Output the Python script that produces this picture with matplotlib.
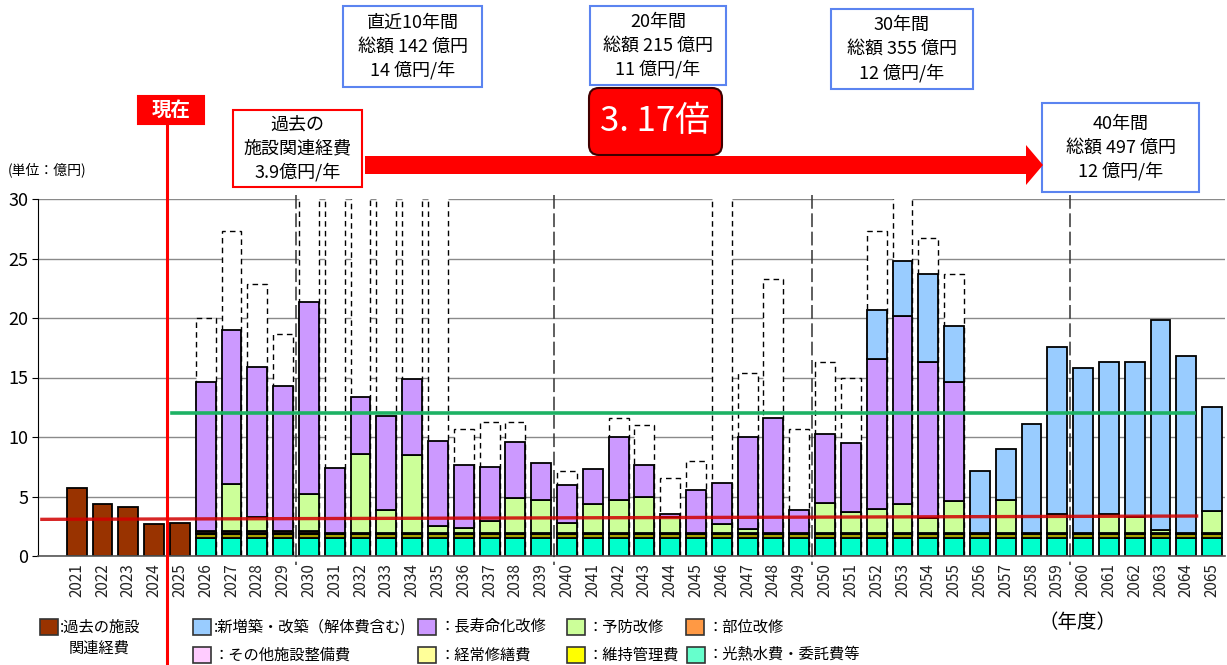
import numpy as np
import matplotlib.pyplot as plt
from matplotlib.patches import Rectangle, FancyBboxPatch, Polygon
from matplotlib.transforms import blended_transform_factory

plt.rcParams['font.family'] = ['Noto Sans CJK JP', 'DejaVu Sans']

W, H = 1227, 665

# ---- data (億円) ----
years = [str(y) for y in range(2021, 2066)]

# 2021-2025: 過去の施設関連経費
past_cost = [5.69, 4.37, 4.09, 2.66, 2.80]

# 2026-2065 stacked components
utility = [1.55, 1.55, 1.55, 1.55, 1.55, 1.55, 1.55, 1.55, 1.55, 1.55,
           1.55, 1.55, 1.55, 1.55, 1.55, 1.55, 1.55, 1.55, 1.55, 1.55,
           1.55, 1.55, 1.55, 1.55, 1.55, 1.55, 1.55, 1.55, 1.55, 1.55,
           1.55, 1.55, 1.55, 1.55, 1.55, 1.55, 1.55, 1.55, 1.55, 1.55]
upkeep = [0.30, 0.30, 0.30, 0.30, 0.30, 0.30, 0.30, 0.30, 0.30, 0.30,
          0.30, 0.30, 0.30, 0.30, 0.30, 0.30, 0.30, 0.30, 0.30, 0.30,
          0.30, 0.30, 0.30, 0.30, 0.30, 0.30, 0.30, 0.30, 0.30, 0.30,
          0.30, 0.30, 0.30, 0.30, 0.30, 0.30, 0.30, 0.30, 0.30, 0.30]
repair = [0.05, 0.05, 0.05, 0.05, 0.05, 0.05, 0.05, 0.05, 0.05, 0.05,
          0.05, 0.05, 0.05, 0.05, 0.05, 0.05, 0.05, 0.05, 0.05, 0.05,
          0.05, 0.05, 0.05, 0.05, 0.05, 0.05, 0.05, 0.05, 0.05, 0.05,
          0.05, 0.05, 0.05, 0.05, 0.05, 0.05, 0.05, 0.05, 0.05, 0.05]
other = [0, 0, 0, 0, 0, 0, 0, 0, 0, 0,
         0, 0, 0, 0, 0, 0, 0, 0, 0, 0,
         0, 0, 0, 0, 0, 0, 0, 0, 0, 0,
         0, 0, 0, 0, 0, 0, 0, 0, 0, 0]
partial = [0.20, 0.20, 0.20, 0.20, 0.20, 0, 0, 0, 0, 0,
           0, 0, 0, 0, 0, 0, 0, 0, 0, 0,
           0, 0, 0, 0, 0, 0, 0, 0, 0, 0,
           0, 0, 0, 0, 0, 0, 0, 0, 0, 0]
preventive = [0, 3.95, 1.20, 0, 3.10, 0, 6.67, 1.97, 6.56, 0.65,
              0.48, 1.01, 2.94, 2.80, 0.90, 2.47, 2.80, 3.06, 1.40, 0,
              0.76, 0.37, 0, 0, 2.58, 1.83, 2.08, 2.47, 1.26, 2.69,
              0, 2.80, 0, 1.65, 0, 1.63, 1.40, 0.25, 0, 1.88]
longlife = [12.55, 12.92, 12.55, 12.16, 16.17, 5.49, 4.76, 7.87, 6.41, 7.11,
            5.24, 4.59, 4.71, 3.14, 3.14, 2.97, 5.33, 2.66, 0.23, 3.65,
            3.50, 7.76, 9.70, 1.97, 5.77, 5.79, 12.57, 15.80, 13.14, 10.06,
            0, 0, 0, 0, 0, 0, 0, 0, 0, 0]
newbuild = [0, 0, 0, 0, 0, 0, 0, 0, 0, 0,
            0, 0, 0, 0, 0, 0, 0, 0, 0, 0,
            0, 0, 0, 0, 0, 0, 4.09, 4.62, 7.37, 4.71,
            5.22, 4.27, 9.22, 13.99, 13.93, 12.77, 13.00, 17.68, 14.90, 8.77]
# dashed outline (before leveling); 0 = none, >30 runs off the chart
unleveled = [20.0, 27.3, 22.86, 18.66, 32, 32, 32, 32, 32, 32,
             10.67, 11.26, 11.26, 0, 7.14, 0, 11.63, 11.0, 6.58, 7.98,
             32, 15.4, 23.25, 10.67, 16.33, 15.0, 27.34, 32, 26.72, 23.7,
             0, 0, 0, 0, 0, 0, 0, 0, 0, 0]

past_avg = ([-1.35, 43.4], [3.08, 3.36])
future_avg = ([3.7, 43.3], [12.0, 12.0])
now_pos = 3.5
decade_marks = [8.5, 18.5, 28.5, 38.5]

c_past = '#993300'
# (values, bar colour, legend colour, label)
layers = [
    (utility, '#00FFCC', '#66FFCC', '：光熱水費・委託費等'),
    (upkeep, '#A8A000', '#FFFF00', '：維持管理費'),
    (repair, '#FFFF99', '#FFFF99', '：経常修繕費'),
    (other, '#FFCCFF', '#FFCCFF', '：その他施設整備費'),
    (partial, '#FF9944', '#FF9944', '：部位改修'),
    (preventive, '#CCFF99', '#CCFF99', '：予防改修'),
    (longlife, '#CC99FF', '#CC99FF', '：長寿命化改修'),
    (newbuild, '#99CCFF', '#99CCFF', ':新増築・改築（解体費含む)'),
]

fig = plt.figure(figsize=(W / 100, H / 100), dpi=100)
ax = fig.add_axes([38 / W, 1 - 556 / H, (1225 - 38) / W, (556 - 199) / H])

x = np.arange(len(years))
fut = x[5:]
bw = 0.77

# dashed white outlines behind the bars
unl = np.array(unleveled, dtype=float)
m = unl > 0
ax.bar(fut[m], unl[m], bw, facecolor='white', edgecolor='black',
       linestyle=(0, (4, 3)), lw=1.0, zorder=1)

ax.bar(x[:5], past_cost, bw, color=c_past, edgecolor='black', lw=1.3, zorder=2)

bottom = np.zeros(len(fut))
for vals, col, lcol, lab in layers:
    v = np.array(vals, dtype=float)
    m = v > 0
    if m.any():
        ax.bar(fut[m], v[m], bw, bottom=bottom[m], color=col,
               edgecolor='black', lw=1.3, zorder=2)
    bottom += v

ax.plot(*past_avg, color='#D00000', lw=2.4, alpha=0.85, zorder=4)
ax.plot(*future_avg, color='#1DB264', lw=2.6, zorder=4)

bt = blended_transform_factory(ax.transData, ax.transAxes)
for d in decade_marks:
    ax.plot([d, d], [1.012, -0.025], transform=bt, color='#333333', lw=1.1,
            dashes=(9, 3), clip_on=False, zorder=3)
ax.plot([now_pos, now_pos], [(556 - 123) / 357, (556 - 665) / 357], transform=bt,
        color='red', lw=2.2, clip_on=False, zorder=5)

ax.set_xlim(-1.5, 44.5)
ax.set_ylim(0, 30)
ax.set_yticks(range(0, 31, 5))
ax.set_xticks(x)
ax.set_xticklabels(years, rotation=90, fontsize=11, color='#222222')
ax.tick_params(axis='x', length=0, pad=5)
ax.tick_params(axis='y', length=4, labelsize=13, pad=3)
ax.grid(axis='y', color='#8A8A8A', lw=1.0, zorder=0)
ax.set_axisbelow(True)
for s in ['top', 'right']:
    ax.spines[s].set_visible(False)
ax.spines['left'].set_color('black')
ax.spines['bottom'].set_color('#555555')
ax.spines['bottom'].set_linewidth(1.2)

# ---- overlay in pixel coordinates for annotations / legend ----
ov = fig.add_axes([0, 0, 1, 1], zorder=10)
ov.set_xlim(0, W)
ov.set_ylim(H, 0)
ov.axis('off')
ov.patch.set_visible(False)


def box(x0, y0, x1, y1, lines, ec, fc='white', tc='black', fs=13,
        step=24, weight='normal', rounded=False, lw=1.5):
    if rounded:
        p = FancyBboxPatch((x0, y0), x1 - x0, y1 - y0,
                           boxstyle='round,pad=0,rounding_size=10',
                           fc=fc, ec=ec, lw=lw)
    else:
        p = Rectangle((x0, y0), x1 - x0, y1 - y0, fc=fc, ec=ec, lw=lw)
    ov.add_patch(p)
    cy = (y0 + y1) / 2
    n = len(lines)
    for i, t in enumerate(lines):
        ov.text((x0 + x1) / 2, cy + (i - (n - 1) / 2) * step, t, ha='center',
                va='center', fontsize=fs, color=tc, weight=weight)


blue_ec = '#5B84F0'
box(343, 6, 482, 87, ['直近10年間', '総額 142 億円', '14 億円/年'], blue_ec)
box(590, 6, 726, 85, ['20年間', '総額 215 億円', '11 億円/年'], blue_ec)
box(831, 9, 973, 89, ['30年間', '総額 355 億円', '12 億円/年'], blue_ec)
box(1042, 103, 1199, 192, ['40年間', '総額 497 億円', '12 億円/年'], blue_ec)
box(233, 110, 362, 187, ['過去の', '施設関連経費', '3.9億円/年'], 'red')
box(589, 88, 722, 155, ['3. 17倍'], '#400000', fc='#FF0000', tc='white',
    fs=25, rounded=True)
box(138, 96, 204, 124, ['現在'], 'red', fc='#FF0000', tc='white', fs=14,
    weight='bold')

# big arrow
ov.add_patch(Polygon([(365, 156), (1026, 156), (1026, 145), (1043, 165),
                      (1026, 185), (1026, 174), (365, 174)],
                     closed=True, fc='#FF0000', ec='none'))

ov.text(8, 170, '(単位：億円)', fontsize=10, va='center', ha='left')
ov.text(1078, 622, '（年度）', fontsize=14, va='center', ha='center')

# legend
leg_pos = {
    ':新増築・改築（解体費含む)': (193, 627),
    '：長寿命化改修': (418, 627),
    '：予防改修': (567, 627),
    '：部位改修': (686, 627),
    '：その他施設整備費': (193, 655),
    '：経常修繕費': (418, 655),
    '：維持管理費': (567, 655),
    '：光熱水費・委託費等': (687, 655),
}
leg_colors = {lab: lcol for vals, col, lcol, lab in layers}
for lab, (lx, ly) in leg_pos.items():
    ov.add_patch(Rectangle((lx, ly - 8), 18, 16, fc=leg_colors[lab],
                           ec='#333333', lw=1.2))
    ov.text(lx + 21, ly, lab, fontsize=11, va='center', ha='left')
ov.add_patch(Rectangle((40, 619), 18, 16, fc=c_past, ec='#333333', lw=1.2))
ov.text(60, 627, ':過去の施設', fontsize=11, va='center', ha='left')
ov.text(69, 648, '関連経費', fontsize=11, va='center', ha='left')

fig.savefig('out.png', dpi=100)
